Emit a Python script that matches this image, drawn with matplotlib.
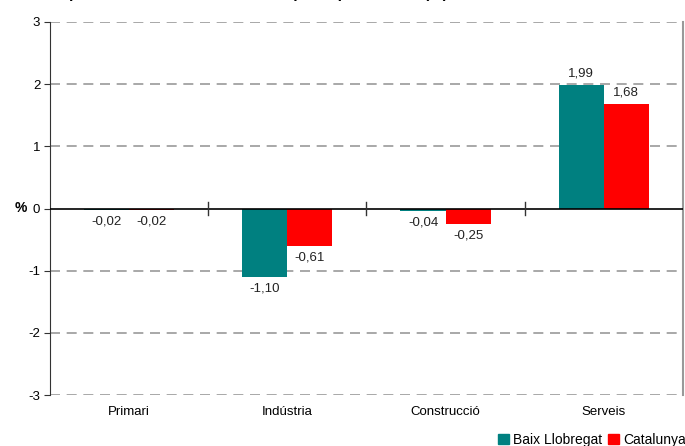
import numpy as np
import matplotlib.pyplot as plt
from matplotlib.patches import Patch

# data
sectors = ['Primari', 'Indústria', 'Construcció', 'Serveis']
baix_llobregat = [-0.02, -1.10, -0.04, 1.99]
catalunya = [-0.02, -0.61, -0.25, 1.68]
y_ticks = [-3, -2, -1, 0, 1, 2, 3]

teal = '#008080'
red = '#ff0000'

plt.rcParams['font.family'] = ['Liberation Sans', 'DejaVu Sans']

fig = plt.figure(figsize=(6.85, 4.46), dpi=100)
ax = fig.add_axes([0.073, 0.1143, 0.924, 0.8364])

x = np.arange(len(sectors))
w = 0.285
b1 = ax.bar(x - w / 2, baix_llobregat, w, color=teal, zorder=3)
b2 = ax.bar(x + w / 2, catalunya, w, color=red, zorder=3)


def fmt(v):
    return f'{v:.2f}'.replace('.', ',')


for bars, vals in ((b1, baix_llobregat), (b2, catalunya)):
    for bar, v in zip(bars, vals):
        cx = bar.get_x() + bar.get_width() / 2
        if v >= 0:
            ax.annotate(fmt(v), (cx, v), xytext=(0, 4), textcoords='offset points',
                        ha='center', va='bottom', fontsize=9.5, color='#222222')
        else:
            ax.annotate(fmt(v), (cx, v), xytext=(0, -4), textcoords='offset points',
                        ha='center', va='top', fontsize=9.5, color='#222222')

ax.set_xlim(-0.5, len(sectors) - 0.5)
ax.set_ylim(-3, 3)
ax.set_yticks(y_ticks)
ax.set_yticklabels([str(t) for t in y_ticks], fontsize=9.5)
ax.set_xticks(x)
ax.set_xticklabels(sectors, fontsize=9.5)
ax.tick_params(axis='x', length=0, pad=8)
ax.tick_params(axis='y', length=4, direction='out', color='#333333', pad=3)

# dashed grid lines, solid zero line
for t in y_ticks:
    if t != 0:
        ax.axhline(t, color='#999999', lw=1.2, ls=(0, (6, 4)), zorder=1)
ax.axhline(0, color='black', lw=1.2, zorder=4)
# category separators on the zero line
for b in x[:-1] + 0.5:
    ax.plot([b, b], [-0.1, 0.1], color='#333333', lw=1, zorder=4)

for s in ['top', 'bottom']:
    ax.spines[s].set_visible(False)
ax.spines['left'].set_color('#333333')
ax.spines['right'].set_color('#999999')
ax.spines['right'].set_linewidth(1.5)

fig.text(0.022, 0.533, '%', fontsize=10, fontweight='bold', va='center')

# title, mostly off the top of the picture
fig.text(0.085, 1.004, "Aportació al creixement de l'ocupació per sectors (%)",
         fontsize=11, fontweight='bold', ha='left', va='baseline')

handles = [Patch(color=teal), Patch(color=red)]
fig.legend(handles, ['Baix Llobregat', 'Catalunya'], loc='lower right',
           bbox_to_anchor=(1.02, -0.03), ncol=2, frameon=False, fontsize=10,
           handlelength=0.8, handleheight=0.8, handletextpad=0.3, columnspacing=0.4)

fig.savefig('out.png', dpi=100)
